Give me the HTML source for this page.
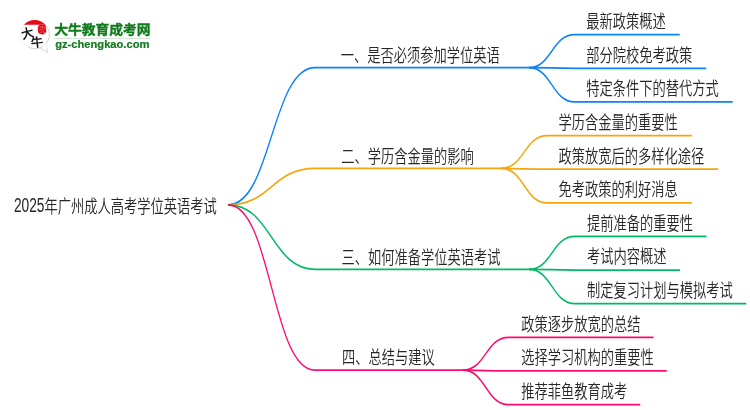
<!DOCTYPE html>
<html lang="zh-CN">
<head>
<meta charset="utf-8">
<title>2025年广州成人高考学位英语考试</title>
<style>
html,body{margin:0;padding:0;background:#fff;}
body{width:750px;height:410px;overflow:hidden;position:relative;}
svg{position:absolute;left:0;top:0;display:block;will-change:transform;}
.mm text{font-family:"Liberation Sans", "Noto Sans CJK SC", sans-serif;font-size:18px;fill:#262626;font-weight:350;}
.mm path{fill:none;stroke-width:1.75;stroke-linecap:butt;}
</style>
</head>
<body>
<svg class="mm" width="750" height="410" viewBox="0 0 750 410">
<g transform="scale(0.73242,1)">
<path d="M311.43,204.80C370.76,204.80 370.76,67.62 430.08,67.62H721.99" stroke="#0a82fa"/>
<path d="M721.99,67.62C753.39,67.62 753.39,34.70 784.79,34.70H928.02" stroke="#0a82fa"/>
<path d="M721.99,67.62C753.39,67.62 753.39,68.32 784.79,68.32H964.20" stroke="#0a82fa"/>
<path d="M721.99,67.62C753.39,67.62 753.39,101.94 784.79,101.94H1000.38" stroke="#0a82fa"/>
<path d="M311.43,204.80C370.76,204.80 370.76,168.48 430.08,168.48H684.31" stroke="#f4a60c"/>
<path d="M684.31,168.48C715.71,168.48 715.71,135.56 747.11,135.56H944.47" stroke="#f4a60c"/>
<path d="M684.31,168.48C715.71,168.48 715.71,169.18 747.11,169.18H980.65" stroke="#f4a60c"/>
<path d="M684.31,168.48C715.71,168.48 715.71,202.80 747.11,202.80H944.47" stroke="#f4a60c"/>
<path d="M311.43,204.80C370.76,204.80 370.76,269.34 430.08,269.34H722.26" stroke="#00ba64"/>
<path d="M722.26,269.34C753.66,269.34 753.66,236.42 785.07,236.42H964.61" stroke="#00ba64"/>
<path d="M722.26,269.34C753.66,269.34 753.66,270.04 785.07,270.04H928.43" stroke="#00ba64"/>
<path d="M722.26,269.34C753.66,269.34 753.66,303.66 785.07,303.66H1018.88" stroke="#00ba64"/>
<path d="M311.43,204.80C370.76,204.80 370.76,370.20 430.08,370.20H631.81" stroke="#ff0a6e"/>
<path d="M631.81,370.20C663.21,370.20 663.21,337.28 694.61,337.28H892.25" stroke="#ff0a6e"/>
<path d="M631.81,370.20C663.21,370.20 663.21,370.90 694.61,370.90H910.34" stroke="#ff0a6e"/>
<path d="M631.81,370.20C663.21,370.20 663.21,404.52 694.61,404.52H874.15" stroke="#ff0a6e"/>
</g>
<g>
<text y="212.40"><tspan x="13.90" textLength="30.60" lengthAdjust="spacingAndGlyphs" style="font-size:19.4px">2025</tspan><tspan x="44.50" y="212.70" textLength="172.25" lengthAdjust="spacingAndGlyphs">年广州成人高考学位英语考试</tspan></text>
<text x="340.80" y="62.02" textLength="159.00" lengthAdjust="spacingAndGlyphs">一、是否必须参加学位英语</text>
<text x="586.20" y="28.10" textLength="79.50" lengthAdjust="spacingAndGlyphs">最新政策概述</text>
<text x="586.20" y="61.72" textLength="106.00" lengthAdjust="spacingAndGlyphs">部分院校免考政策</text>
<text x="586.20" y="95.34" textLength="132.50" lengthAdjust="spacingAndGlyphs">特定条件下的替代方式</text>
<text x="341.30" y="162.88" textLength="132.50" lengthAdjust="spacingAndGlyphs">二、学历含金量的影响</text>
<text x="558.60" y="128.96" textLength="119.25" lengthAdjust="spacingAndGlyphs">学历含金量的重要性</text>
<text x="558.60" y="162.58" textLength="145.75" lengthAdjust="spacingAndGlyphs">政策放宽后的多样化途径</text>
<text x="558.60" y="196.20" textLength="119.25" lengthAdjust="spacingAndGlyphs">免考政策的利好消息</text>
<text x="341.50" y="263.74" textLength="159.00" lengthAdjust="spacingAndGlyphs">三、如何准备学位英语考试</text>
<text x="587.00" y="229.82" textLength="106.00" lengthAdjust="spacingAndGlyphs">提前准备的重要性</text>
<text x="587.00" y="263.44" textLength="79.50" lengthAdjust="spacingAndGlyphs">考试内容概述</text>
<text x="587.00" y="297.06" textLength="145.75" lengthAdjust="spacingAndGlyphs">制定复习计划与模拟考试</text>
<text x="341.90" y="364.30" textLength="92.75" lengthAdjust="spacingAndGlyphs">四、总结与建议</text>
<text x="521.35" y="330.68" textLength="119.25" lengthAdjust="spacingAndGlyphs">政策逐步放宽的总结</text>
<text x="521.35" y="364.30" textLength="132.50" lengthAdjust="spacingAndGlyphs">选择学习机构的重要性</text>
<text x="521.35" y="397.92" textLength="106.00" lengthAdjust="spacingAndGlyphs">推荐菲鱼教育成考</text>
</g>
<g class="logo">
<path d="M46.2,44.4 L47.8,52.3 L40.4,48.4 Z" style="fill:#fff;stroke:#c6c6c6;stroke-width:0.7;stroke-linejoin:round"/>
<circle cx="35.2" cy="34.6" r="14.3" style="fill:#fff;stroke:#efefef;stroke-width:0.8"/>
<path d="M44.39,23.65 A14.3,14.3 0 0 1 28.05,46.98" style="fill:none;stroke:#cdcdcd;stroke-width:0.8"/>
<path d="M46.3,43.6 L46.9,48.4 L41.6,47.6 Z" style="fill:#fff;stroke:none"/>
<path d="M23.9,24.8 A14.1,14.1 0 0 1 45.3,24.8 Z" style="fill:#e60a14;stroke:none"/>
<path d="M39.4,24.7 L45.2,24.7 Q46.4,27.6 46.2,31.2 Q46,33.9 43.4,34.4 Q39.6,34.7 38.2,32.4 Q37.4,30.2 37.9,27.4 Q38.3,25.4 39.4,24.7 Z" style="fill:#e00b17;stroke:none"/>
<path d="M39.9,26.6 l1.2,0.9 M42.6,26.2 l0.3,1.6 M44.3,27.4 l0.6,1.2 M39.6,29.6 l1.5,-0.3 M42.4,29.8 l1.1,1 M40.6,32.4 l0.9,-0.9 M43.4,32.8 l1.3,-0.5" style="fill:none;stroke:#f6b4b6;stroke-width:0.6;stroke-linecap:round"/>
<text x="21.0" y="38.0" transform="rotate(-14 27 33)" style="font-family:'Liberation Sans','Noto Sans CJK SC',sans-serif;font-size:12.5px;font-weight:500;fill:#111;stroke:#111;stroke-width:0.15px">大</text>
<text x="30.8" y="47" transform="rotate(-6 37 42)" style="font-family:'Liberation Sans','Noto Sans CJK SC',sans-serif;font-size:12.5px;font-weight:500;fill:#111;stroke:#111;stroke-width:0.15px">牛</text>
<text x="54.2" y="34.3" textLength="96.4" lengthAdjust="spacingAndGlyphs" style="font-family:'Liberation Sans','Noto Sans CJK SC',sans-serif;font-size:13px;font-weight:700;fill:#107a1c;stroke:#107a1c;stroke-width:0.35px">大牛教育成考网</text>
<rect x="54.2" y="38.05" width="95.8" height="0.9" style="fill:#cfe0d2"/>
<text x="55.2" y="47.7" textLength="94.2" lengthAdjust="spacingAndGlyphs" style="font-family:'Liberation Sans',sans-serif;font-size:10.4px;font-weight:bold;fill:#107a1c;stroke:#107a1c;stroke-width:0.2px">gz-chengkao.com</text>
</g>

</svg>
</body>
</html>
